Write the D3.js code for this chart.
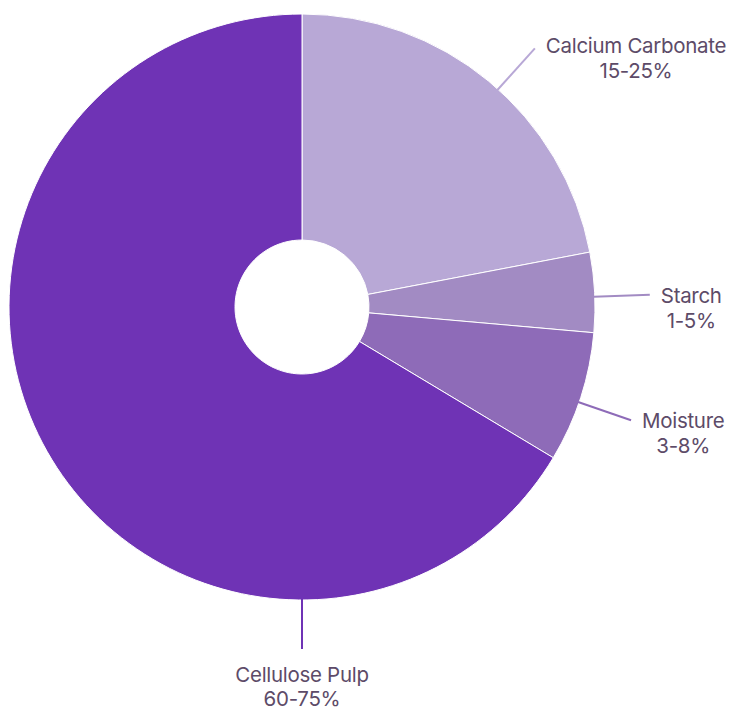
<!DOCTYPE html>
<html>
<head>
<meta charset="utf-8">
<script src="https://cdn.jsdelivr.net/npm/d3@7"></script>
<style>
  html, body { margin: 0; padding: 0; background: #ffffff; }
  svg { display: block; }
  text { font-family: Inter, "Noto Sans", sans-serif; }
</style>
</head>
<body>
<svg id="chart" width="732" height="711"></svg>
<script>
// ---- data ----
const categories = ["Calcium Carbonate", "Starch", "Moisture", "Cellulose Pulp"];
const shares = [22.0, 4.4, 7.2, 66.4];            // share of the circle, %
const rangeLabels = ["15-25%", "1-5%", "3-8%", "60-75%"];

// ---- layout / style ----
const W = 732, H = 711;
const cx = 302, cy = 307;
const outerR = 293, innerR = 67;
const leaderLen = [55, 55, 55, 49];
const labelAngleDeg = [42, 88, 109, 180];          // where each leader line sits
const colors = ["#b8a8d6", "#a28bc3", "#8e6bb8", "#6f33b5"];
const textColor = "#5d4b68";
const fontSize = 20.5;
const lineGap = 25;

const svg = d3.select("#chart");
const g = svg.append("g").attr("transform", `translate(${cx},${cy})`);

const data = categories.map((c, i) => ({ name: c, value: shares[i], range: rangeLabels[i], color: colors[i], la: labelAngleDeg[i], len: leaderLen[i] }));

const pie = d3.pie().value(d => d.value).sort(null);
const arc = d3.arc().innerRadius(innerR).outerRadius(outerR);
const arcs = pie(data);

g.selectAll("path.slice")
  .data(arcs)
  .join("path")
  .attr("class", "slice")
  .attr("d", arc)
  .attr("fill", d => d.data.color)
  .attr("stroke", "#ffffff")
  .attr("stroke-width", 1);

const rad = a => a * Math.PI / 180;
const pt = (aDeg, r) => [Math.sin(rad(aDeg)) * r, -Math.cos(rad(aDeg)) * r];

// leader lines
g.selectAll("line.leader")
  .data(arcs)
  .join("line")
  .attr("class", "leader")
  .attr("x1", d => pt(d.data.la, outerR - 1)[0])
  .attr("y1", d => pt(d.data.la, outerR - 1)[1])
  .attr("x2", d => pt(d.data.la, outerR + d.data.len)[0])
  .attr("y2", d => pt(d.data.la, outerR + d.data.len)[1])
  .attr("stroke", d => d.data.color)
  .attr("stroke-width", 2);

// labels
arcs.forEach(d => {
  const [ex, ey] = pt(d.data.la, outerR + d.data.len);
  const lbl = g.append("g");
  const t1 = lbl.append("text").text(d.data.name)
    .attr("font-size", fontSize).attr("fill", textColor)
    .attr("letter-spacing", -0.3).attr("text-anchor", "middle");
  const t2 = lbl.append("text").text(d.data.range)
    .attr("font-size", fontSize).attr("fill", textColor)
    .attr("letter-spacing", -0.3).attr("text-anchor", "middle");
  const w = Math.max(t1.node().getComputedTextLength(), t2.node().getComputedTextLength());
  let mx, by, gap = lineGap;
  if (d.data.la > 160 && d.data.la < 200) {
    mx = ex; by = ey + 33; gap = lineGap - 1;
  } else {
    mx = ex + 11 + w / 2;
    by = ey + (d.data.la < 60 ? 5 : 8);
  }
  t1.attr("x", mx).attr("y", by);
  t2.attr("x", mx).attr("y", by + gap);
});
</script>
</body>
</html>
